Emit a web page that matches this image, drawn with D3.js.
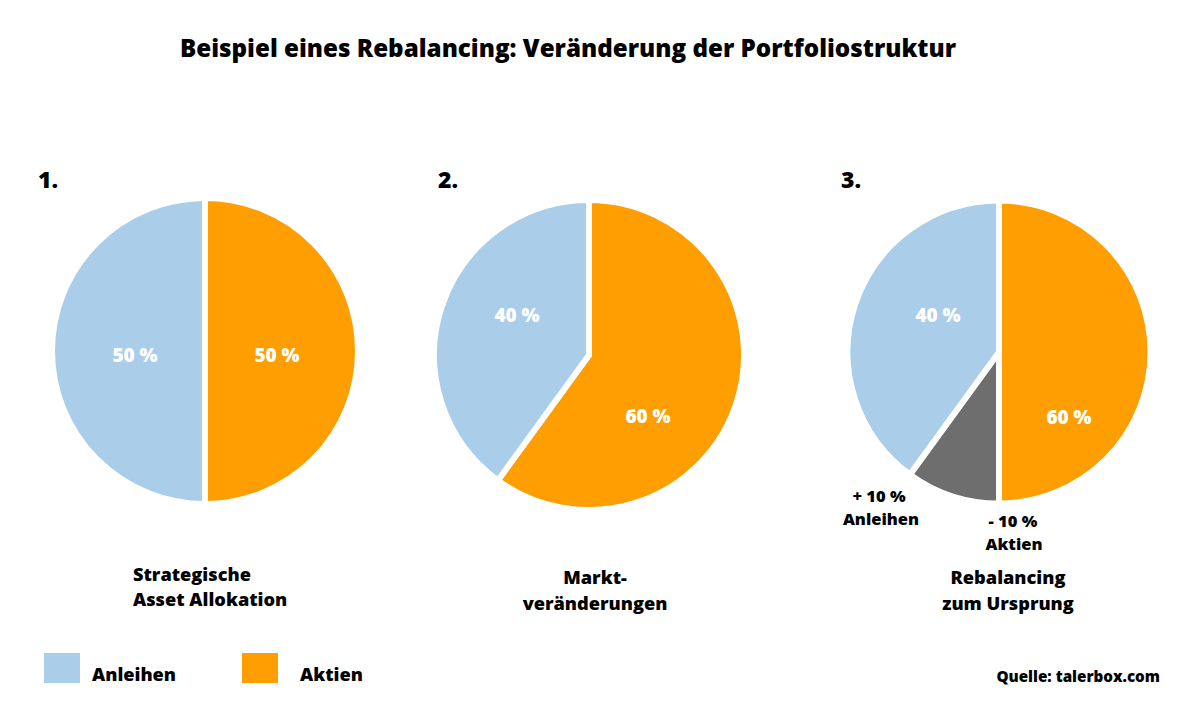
<!DOCTYPE html>
<html><head><meta charset="utf-8">
<script src="https://cdn.jsdelivr.net/npm/d3@7"></script>
<style>html,body{margin:0;background:#fff}svg{display:block}text{font-family:"Open Sans",sans-serif;font-weight:800;fill:#000}</style>
</head><body><svg id="c" width="1200" height="706"></svg>
<script>
const title = "Beispiel eines Rebalancing: Veränderung der Portfoliostruktur";
const pie1Labels = ["Aktien","Anleihen"];
const pie1Values = [50,50];
const pie2Labels = ["Aktien","Anleihen"];
const pie2Values = [60,40];
const pie3Labels = ["Aktien","Umschichtung","Anleihen"];
const pie3Values = [50,10,40];
const colors = {Aktien:"#ff9e00",Anleihen:"#aacdea",Umschichtung:"#6e6e6e"};
const legendItems = ["Anleihen","Aktien"];

const svg = d3.select("#c");
const T=(x,y,s,size,anchor="middle",fill="#000")=>svg.append("text").attr("x",x).attr("y",y).attr("text-anchor",anchor).attr("font-size",size).style("fill",fill).text(s);

T(568,57,title,24.2);

const arcGap=6;
function drawPie(cfg){
  const g=svg.append("g").attr("transform",`translate(${cfg.cx},${cfg.cy})`);
  const pie=d3.pie().sort(null).value(d=>d.v);
  const arcs=pie(cfg.labels.map((l,i)=>({l,v:cfg.values[i]})));
  const arc=d3.arc().innerRadius(0).outerRadius(cfg.r);
  g.selectAll("path").data(arcs).join("path").attr("d",arc).attr("fill",d=>colors[d.data.l])
    .attr("stroke","#fff").attr("stroke-width",arcGap).attr("stroke-linejoin","miter");
}
drawPie({cx:205,cy:351,r:153,labels:pie1Labels,values:pie1Values});
drawPie({cx:589,cy:355,r:155,labels:pie2Labels,values:pie2Values});
drawPie({cx:999,cy:352,r:151.5,labels:pie3Labels,values:pie3Values});

const W="#fff";
T(135,362,"50 %",19,"middle",W);T(277,362,"50 %",19,"middle",W);
T(517,322,"40 %",19,"middle",W);T(648,423,"60 %",19,"middle",W);
T(938,322,"40 %",19,"middle",W);T(1069,424,"60 %",19,"middle",W);

T(48,188,"1.",23);T(448,188,"2.",23);T(851,188,"3.",23);

T(133,581,"Strategische",18.2,"start");T(133,606,"Asset Allokation",18.2,"start");
T(595,584,"Markt-",18.2);T(595,610,"veränderungen",18.2);
T(1008,584,"Rebalancing",18.2);T(1008,610,"zum Ursprung",18.2);
T(879,502,"+ 10 %",16.5);T(881,525,"Anleihen",16.5);
T(1013,527,"- 10 %",16.5);T(1014,550,"Aktien",16.5);

const lx=[44,242],ltx=[92,300];
legendItems.forEach((n,i)=>{
  svg.append("rect").attr("x",lx[i]).attr("y",653).attr("width",36).attr("height",30).attr("fill",colors[n]);
  T(ltx[i],681,n,18.2,"start");
});
T(1160,682,"Quelle: talerbox.com",15.2,"end");
</script></body></html>
